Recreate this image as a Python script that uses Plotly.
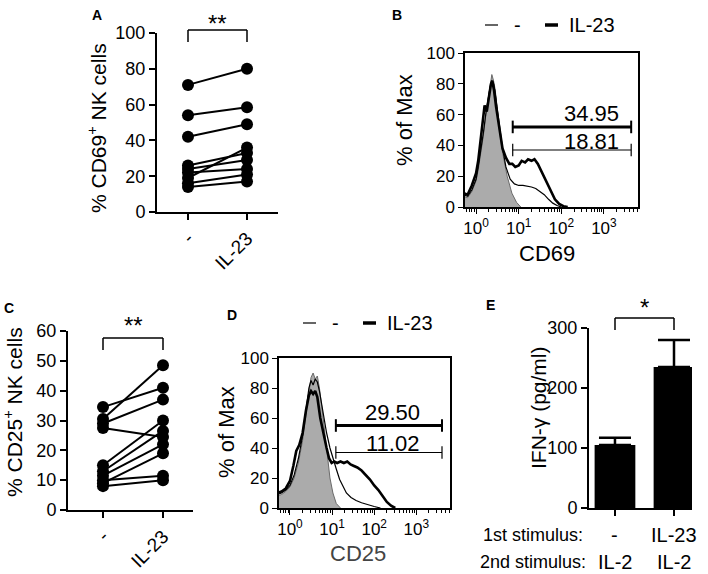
import plotly.graph_objects as go

# ---------------- data ----------------
cats = ["-", "IL-23"]

# Panel A: % CD69+ NK cells (paired donors)
a_ctrl = [71, 54, 42, 26, 24, 22, 19, 16, 14]
a_il23 = [80, 58.5, 49, 33, 29, 24, 36, 21, 17]

# Panel C: % CD25+ NK cells (paired donors)
c_ctrl = [34.5, 30.5, 29, 27.5, 15, 13, 11.5, 9, 10, 8]
c_il23 = [41, 48.5, 37, 24.5, 30, 26.5, 22, 19, 11.5, 10]

# Panel B: CD69 histograms (log10 fluorescence, % of max)
b_iso_exp = [-0.3, -0.2, -0.1, 0.0, 0.05, 0.12, 0.17, 0.23, 0.29, 0.33, 0.37, 0.41, 0.45, 0.53, 0.61, 0.73, 0.84, 0.95, 1.05]
b_iso_val = [7, 6, 10, 17, 24, 36, 46, 60, 72, 80, 86, 82, 76, 54, 37, 20, 9, 3, 0]
b_ctl_exp = [-0.3, -0.2, -0.1, 0.0, 0.05, 0.12, 0.17, 0.23, 0.29, 0.33, 0.37, 0.41, 0.45, 0.53, 0.61, 0.7, 0.8, 0.9, 1.0, 1.1, 1.2, 1.3, 1.4, 1.5, 1.6, 1.7, 1.8, 1.9, 2.0]
b_ctl_val = [8, 7, 11, 18, 26, 38, 48, 61, 72, 78, 82, 80, 74, 55, 40, 26, 18, 15, 14, 14, 13.5, 13, 12, 10, 8, 5, 2.5, 1, 0]
b_il_exp = [-0.3, -0.2, -0.1, 0.0, 0.05, 0.1, 0.15, 0.2, 0.25, 0.3, 0.35, 0.38, 0.42, 0.47, 0.55, 0.62, 0.7, 0.78, 0.85, 0.92, 1.0, 1.07, 1.15, 1.22, 1.3, 1.37, 1.45, 1.55, 1.65, 1.75, 1.85, 1.95, 2.05, 2.15]
b_il_val = [9, 8, 14, 22, 30, 42, 58, 66, 62, 72, 80, 82, 76, 65, 50, 38, 32, 28, 28, 26, 27, 30, 29, 31, 30, 31, 28, 22, 16, 10, 5, 2, 0.5, 0]

# Panel D: CD25 histograms
d_iso_exp = [-0.3, -0.2, -0.1, 0.0, 0.1, 0.2, 0.3, 0.38, 0.45, 0.5, 0.55, 0.6, 0.65, 0.7, 0.78, 0.87, 0.95, 1.02, 1.1, 1.2]
d_iso_val = [8, 9, 11, 14, 20, 30, 45, 62, 78, 87, 90, 86, 88, 80, 62, 39, 20, 10, 3, 0]
d_ctl_exp = [-0.3, -0.2, -0.1, 0.0, 0.1, 0.2, 0.3, 0.38, 0.45, 0.5, 0.55, 0.6, 0.65, 0.7, 0.78, 0.87, 0.95, 1.02, 1.1, 1.18, 1.26, 1.34, 1.45, 1.57, 1.7, 1.85, 2.0, 2.15]
d_ctl_val = [9, 10, 12, 15, 22, 33, 48, 65, 80, 85, 82, 86, 84, 78, 65, 50, 40, 33, 26, 19, 14, 10, 7, 5, 3.5, 2, 1, 0]
d_il_exp = [-0.3, -0.2, -0.1, 0.0, 0.08, 0.15, 0.22, 0.3, 0.38, 0.45, 0.5, 0.55, 0.6, 0.65, 0.72, 0.8, 0.87, 0.93, 0.99, 1.05, 1.12, 1.2, 1.28, 1.36, 1.44, 1.52, 1.6, 1.7, 1.8, 1.9, 2.0, 2.1, 2.2, 2.3, 2.4, 2.5]
d_il_val = [10, 11, 13, 18, 28, 38, 42, 50, 65, 75, 78, 76, 78, 74, 60, 48, 40, 33, 30, 31, 30, 31, 30, 31, 29, 28, 27, 25, 22, 19, 15, 12, 8, 4, 1.5, 0]

# gates (log10 low, log10 high, level) and percentages
b_gate_exp = [0.86, 3.64]
b_gate_il, b_gate_ctl = 52, 37
b_pct_il, b_pct_ctl = "34.95", "18.81"
d_gate_exp = [1.09, 3.61]
d_gate_il, d_gate_ctl = 55, 37
d_pct_il, d_pct_ctl = "29.50", "11.02"

# Panel E: IFN-gamma
e_vals = [105, 235]
e_err = [12, 45]
e_first = ["-", "IL-23"]
e_second = ["IL-2", "IL-2"]

hist_ticks = [1, 10, 100, 1000]
hist_ticktext = ["10<sup>0</sup>", "10<sup>1</sup>", "10<sup>2</sup>", "10<sup>3</sup>"]

# ---------------- layout helpers ----------------
W, H = 708, 574
FONT = "Arial, Liberation Sans, Helvetica, sans-serif"


def px(x):
    return x / W


def py(y):
    return 1 - y / H


def lin(e):
    return [10 ** v for v in e]


fig = go.Figure()

# ---- Panel A ----
for c, t in zip(a_ctrl, a_il23):
    fig.add_trace(go.Scatter(x=[0, 1], y=[c, t], mode="lines+markers",
                             line=dict(color="black", width=2),
                             marker=dict(color="black", size=12),
                             cliponaxis=False, showlegend=False,
                             xaxis="x", yaxis="y"))
# ---- Panel C ----
for c, t in zip(c_ctrl, c_il23):
    fig.add_trace(go.Scatter(x=[0, 1], y=[c, t], mode="lines+markers",
                             line=dict(color="black", width=2),
                             marker=dict(color="black", size=12),
                             cliponaxis=False, showlegend=False,
                             xaxis="x3", yaxis="y3"))


def add_hist(iso_e, iso_v, ctl_e, ctl_v, il_e, il_v, gate_e, g_il, g_ctl, xa, ya):
    fig.add_trace(go.Scatter(x=lin(iso_e), y=iso_v, mode="lines", fill="tozeroy",
                             fillcolor="#ababab", line=dict(color="#6a6a6a", width=1),
                             showlegend=False, xaxis=xa, yaxis=ya))
    fig.add_trace(go.Scatter(x=lin(ctl_e), y=ctl_v, mode="lines",
                             line=dict(color="black", width=1.2),
                             showlegend=False, xaxis=xa, yaxis=ya))
    fig.add_trace(go.Scatter(x=lin(il_e), y=il_v, mode="lines",
                             line=dict(color="black", width=2.6),
                             showlegend=False, xaxis=xa, yaxis=ya))
    gx = lin(gate_e)
    fig.add_trace(go.Scatter(x=gx, y=[g_il, g_il], mode="lines+markers",
                             line=dict(color="black", width=3),
                             marker=dict(symbol="line-ns", size=9, line=dict(width=2, color="black")),
                             showlegend=False, cliponaxis=False, xaxis=xa, yaxis=ya))
    fig.add_trace(go.Scatter(x=gx, y=[g_ctl, g_ctl], mode="lines+markers",
                             line=dict(color="black", width=1.2),
                             marker=dict(symbol="line-ns", size=9, line=dict(width=1.2, color="black")),
                             showlegend=False, cliponaxis=False, xaxis=xa, yaxis=ya))


add_hist(b_iso_exp, b_iso_val, b_ctl_exp, b_ctl_val, b_il_exp, b_il_val,
         b_gate_exp, b_gate_il, b_gate_ctl, "x2", "y2")
add_hist(d_iso_exp, d_iso_val, d_ctl_exp, d_ctl_val, d_il_exp, d_il_val,
         d_gate_exp, d_gate_il, d_gate_ctl, "x4", "y4")

# ---- Panel E ----
fig.add_trace(go.Bar(x=[0, 1], y=e_vals, width=0.69, marker=dict(color="black", line=dict(width=0)),
                     error_y=dict(type="data", array=e_err, arrayminus=[0, 0], symmetric=False,
                                  color="black", thickness=2.5, width=16),
                     showlegend=False, xaxis="x5", yaxis="y5"))

# ---------------- axes ----------------
tickfont = dict(family=FONT, size=18, color="black")
histtick = dict(family=FONT, size=17, color="black")


def cat_axis(dom, rng, anchor):
    return dict(domain=dom, range=rng, anchor=anchor, tickvals=[0, 1], ticktext=cats, tickangle=-45,
                showline=True, linecolor="black", linewidth=2, ticks="outside", ticklen=6,
                tickwidth=2, tickcolor="black", showgrid=False, zeroline=False, automargin=False,
                tickfont=dict(family=FONT, size=19, color="black"))


def val_axis(dom, rng, dtick, anchor):
    return dict(domain=dom, range=rng, dtick=dtick, anchor=anchor, automargin=False,
                showline=True, linecolor="black", linewidth=2, ticks="outside", ticklen=6,
                tickwidth=2, tickcolor="black", showgrid=False, zeroline=False, tickfont=tickfont)


minor_vals = [m * 10 ** k for k in range(0, 4) for m in range(2, 10)] + [0.6, 0.7, 0.8, 0.9]


def log_axis(dom, anchor):
    return dict(domain=dom, type="log", range=[-0.26, 3.8], anchor=anchor, automargin=False,
                tickvals=hist_ticks, ticktext=hist_ticktext, tickfont=histtick,
                showline=True, mirror=True, linecolor="black", linewidth=1.5,
                ticks="outside", ticklen=5, tickcolor="black", tickwidth=1.2,
                minor=dict(tickvals=minor_vals, ticks="outside", ticklen=3, tickcolor="black", tickwidth=1),
                showgrid=False, zeroline=False)


def hist_y(dom, anchor):
    return dict(domain=dom, range=[0, 100], dtick=20, anchor=anchor, automargin=False,
                showline=True, mirror=True, linecolor="black", linewidth=1.5,
                ticks="outside", ticklen=5, tickcolor="black", tickwidth=1.2,
                showgrid=False, zeroline=False, tickfont=histtick)


fig.update_layout(
    template="none",
    width=W, height=H, margin=dict(l=0, r=0, t=0, b=0, pad=0, autoexpand=False),
    paper_bgcolor="white", plot_bgcolor="white",
    font=dict(family=FONT, color="black"),
    xaxis=cat_axis([px(157), px(278)], [-0.525, 1.525], "y"),
    yaxis=val_axis([py(212), py(33)], [0, 100], 20, "x"),
    xaxis2=log_axis([px(465), px(638)], "y2"),
    yaxis2=hist_y([py(207), py(53)], "x2"),
    xaxis3=cat_axis([px(68), px(193)], [-0.583, 1.5], "y3"),
    yaxis3=val_axis([py(510), py(331)], [0, 60], 10, "x3"),
    xaxis4=log_axis([px(279), px(450)], "y4"),
    yaxis4=hist_y([py(508), py(358)], "x4"),
    xaxis5=dict(domain=[px(589), px(692)], range=[-0.44, 1.305], anchor="y5", automargin=False,
                tickvals=[0, 1], showticklabels=False, showline=True, linecolor="black",
                linewidth=2, ticks="outside", ticklen=6, tickwidth=2, tickcolor="black",
                showgrid=False, zeroline=False),
    yaxis5=val_axis([py(508), py(328)], [0, 300], 100, "x5"),
)

# ---------------- annotations & shapes ----------------
ann = []
shapes = []


def text(x, y, s, size, angle=0, xanchor="center", bold=False, color="black"):
    ann.append(dict(x=px(x), y=py(y), xref="paper", yref="paper", text=("<b>%s</b>" % s) if bold else s,
                    showarrow=False, textangle=angle, xanchor=xanchor, yanchor="middle",
                    font=dict(family=FONT, size=size, color=color)))


def line(x0, y0, x1, y1, w, color="black"):
    shapes.append(dict(type="line", xref="paper", yref="paper", x0=px(x0), y0=py(y0),
                       x1=px(x1), y1=py(y1), line=dict(color=color, width=w)))


# panel letters
text(97, 15, "A", 14, bold=True)
text(397, 15, "B", 14, bold=True)
text(9, 308, "C", 14, bold=True)
text(232, 315, "D", 14, bold=True)
text(490, 305, "E", 14, bold=True)

# axis titles
text(97, 128, "% CD69<sup>+</sup> NK cells", 21, angle=-90)
text(13, 412, "% CD25<sup>+</sup> NK cells", 21, angle=-90)
text(404, 120, "% of Max", 22, angle=-90)
text(226, 432, "% of Max", 22, angle=-90)
text(538, 408, "IFN-γ (pg/ml)", 21, angle=-90)
text(547, 253, "CD69", 22)
text(358, 553, "CD25", 22, color="#444444")

# significance brackets
for (x0, x1, ytop, ybot, star, sy) in [(188, 247, 30, 42, "**", 20), (103, 163, 338, 350, "**", 321),
                                       (615, 674, 318, 330, "*", 303)]:
    line(x0, ytop, x1, ytop, 1.5)
    line(x0, ytop, x0, ybot, 1.5)
    line(x1, ytop, x1, ybot, 1.5)
    text((x0 + x1) / 2, sy + 4, star, 24)

# histogram legends
for (x_thin, x_thick, y_leg) in [(485, 545, 25), (303, 363, 323)]:
    line(x_thin, y_leg, x_thin + 13, y_leg, 1.2)
    text(x_thin + 32, y_leg, "-", 20)
    line(x_thick, y_leg, x_thick + 13, y_leg, 3.5)
    text(x_thick + 22, y_leg, "IL-23", 20, xanchor="left")

# gate percentages (data coords on hist axes)
for (xa, ya, pct_il, pct_ctl, xe, y_il, y_ctl) in [("x2", "y2", b_pct_il, b_pct_ctl, 2.72, 61, 42.5),
                                                   ("x4", "y4", d_pct_il, d_pct_ctl, 2.43, 63.5, 42.7)]:
    for s, yy in [(pct_il, y_il), (pct_ctl, y_ctl)]:
        ann.append(dict(x=xe, y=yy, xref=xa, yref=ya, text=s, showarrow=False,
                        xanchor="center", yanchor="middle",
                        font=dict(family=FONT, size=22, color="black")))

# panel E stimulus rows
text(585, 535, "1st stimulus:", 18, xanchor="right")
text(588, 562, "2nd stimulus:", 18, xanchor="right")
for i, (f, s) in enumerate(zip(e_first, e_second)):
    ann.append(dict(x=i, y=py(535), xref="x5", yref="paper", text=f, showarrow=False,
                    xanchor="center", yanchor="middle", font=dict(family=FONT, size=20, color="black")))
    ann.append(dict(x=i, y=py(562), xref="x5", yref="paper", text=s, showarrow=False,
                    xanchor="center", yanchor="middle", font=dict(family=FONT, size=20, color="black")))

fig.update_layout(annotations=ann, shapes=shapes)
fig.write_html("out.html", config={"displayModeBar": False},
               post_script="document.body.style.margin='0px';")
